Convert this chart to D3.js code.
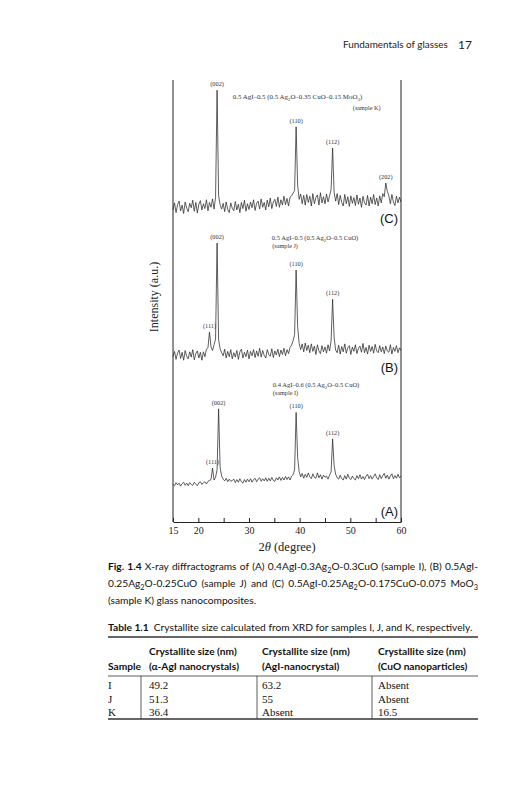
<!DOCTYPE html>
<html>
<head>
<meta charset="utf-8">
<script src="https://cdn.jsdelivr.net/npm/d3@7.9.0/dist/d3.min.js"></script>
<style>
  body { margin: 0; background: #fff; }
  text { white-space: pre; }
</style>
</head>
<body>
<svg id="page" width="531" height="800"></svg>
<script>
// 2theta grid of the scans
const thetaStart = 15, thetaStep = 0.3;

// (A) sample I
const sampleI = [
  85, 82, 89, 84, 88, 81, 87, 90, 83, 88,
  82, 89, 85, 83, 90, 86, 82, 89, 91, 85,
  89, 91, 86, 92, 94, 96, 122, 95, 101, 118,
  256, 124, 104, 97, 93, 99, 91, 97, 92, 94,
  97, 89, 96, 90, 98, 91, 88, 96, 90, 97,
  91, 98, 90, 96, 99, 91, 97, 100, 92, 98,
  93, 100, 92, 99, 93, 101, 94, 92, 100, 95,
  102, 94, 101, 95, 103, 96, 102, 95, 104, 107,
  118, 248, 146, 114, 102, 110, 99, 108, 101, 111,
  102, 98, 109, 101, 99, 111, 100, 107, 97, 106,
  101, 104, 97, 106, 113, 188, 128, 108, 100, 97,
  106, 98, 95, 105, 97, 108, 99, 96, 104, 98,
  95, 105, 98, 107, 97, 103, 96, 104, 108, 98,
  105, 97, 103, 109, 100, 96, 107, 98, 105, 110,
  99, 106, 97, 104, 109, 98, 105, 99, 108, 100,
  104
];
// (B) sample J
const sampleJ = [
  84, 96, 78, 92, 99, 80, 94, 76, 98, 85,
  79, 95, 83, 100, 77, 91, 97, 81, 94, 76,
  95, 84, 101, 104, 140, 106, 98, 111, 124, 341,
  122, 102, 93, 86, 101, 81, 96, 84, 100, 79,
  93, 83, 98, 78, 95, 101, 81, 94, 84, 99,
  79, 96, 86, 100, 82, 97, 85, 103, 83, 98,
  87, 81, 100, 89, 85, 102, 82, 97, 88, 101,
  84, 99, 89, 103, 86, 100, 91, 105, 110, 120,
  134, 280, 152, 114, 100, 113, 95, 115, 98, 110,
  93, 113, 96, 108, 89, 111, 97, 91, 109, 95,
  106, 92, 111, 97, 120, 214, 128, 99, 93, 110,
  90, 107, 95, 113, 92, 104, 109, 89, 106, 96,
  111, 91, 103, 108, 94, 114, 93, 105, 90, 110,
  96, 107, 92, 112, 97, 93, 109, 95, 106, 91,
  108, 97, 94, 111, 90, 105, 96, 109, 93, 104,
  98
];
// (C) sample K
const sampleK = [
  86, 102, 80, 98, 106, 84, 97, 78, 104, 90,
  82, 101, 91, 108, 83, 103, 79, 99, 107, 86,
  100, 89, 109, 84, 103, 92, 111, 88, 114, 357,
  118, 98, 88, 101, 82, 104, 87, 80, 102, 90,
  84, 105, 86, 99, 80, 103, 89, 108, 83, 100,
  87, 104, 91, 109, 85, 101, 106, 88, 111, 92,
  103, 86, 108, 93, 113, 89, 104, 110, 94, 115,
  92, 109, 97, 117, 98, 112, 95, 115, 118, 124,
  130, 274, 142, 110, 122, 100, 119, 97, 121, 103,
  117, 95, 123, 100, 114, 120, 97, 125, 102, 116,
  100, 122, 104, 118, 132, 226, 126, 106, 123, 98,
  119, 103, 95, 121, 100, 116, 94, 118, 101, 114,
  96, 120, 99, 113, 92, 117, 102, 97, 119, 95,
  115, 100, 121, 98, 113, 95, 118, 102, 123, 116,
  147, 128, 118, 100, 121, 104, 96, 117, 102, 115,
  104
];

const scans = [sampleI, sampleJ, sampleK];
const panelNames = ["(A)", "(B)", "(C)"];
const offsets = [0, 290, 620];

// peak reflections (2theta of the maximum, hkl)
const peaksI = [[22.8, "(111)"], [24.0, "(002)"], [39.3, "(110)"], [46.5, "(112)"]];
const peaksJ = [[22.2, "(111)"], [23.7, "(002)"], [39.3, "(110)"], [46.5, "(112)"]];
const peaksK = [[23.7, "(002)"], [39.3, "(110)"], [46.5, "(112)"], [57.0, "(202)"]];
const peaks = [peaksI, peaksJ, peaksK];

const xTicks = [15, 20, 25, 30, 35, 40, 45, 50, 55, 60];
const xTickLabels = [15, 20, 30, 40, 50, 60];

const tableHead1 = ["", "Crystallite size (nm)", "Crystallite size (nm)", "Crystallite size (nm)"];
const tableHead2 = ["Sample", "(\u03b1-AgI nanocrystals)", "(AgI-nanocrystal)", "(CuO nanoparticles)"];
const tableRows = [
  ["I", "49.2", "63.2", "Absent"],
  ["J", "51.3", "55", "Absent"],
  ["K", "36.4", "Absent", "16.5"]
];

const SERIF = "'Liberation Serif', 'Times New Roman', serif";
const SANS = "Lato, 'Open Sans', sans-serif";

const svg = d3.select("#page");

// text with bold / italic / subscript parts
function rich(text, parts, size) {
  let down = false;
  parts.forEach(([t, f]) => {
    const ts = text.append("tspan").text(t);
    if (f === "b") ts.attr("font-weight", "bold");
    if (f === "i") ts.attr("font-style", "italic");
    if (f === "s") {
      ts.attr("font-size", size * 0.72).attr("dy", size * 0.3);
      down = true;
    } else if (down) {
      ts.attr("dy", -size * 0.3);
      down = false;
    }
  });
  return text;
}

// running head
svg.append("text").attr("x", 343).attr("y", 48)
  .attr("font-family", SANS).attr("font-size", 9.9).attr("fill", "#222")
  .text("Fundamentals of glasses");
svg.append("text").attr("x", 458).attr("y", 49)
  .attr("font-family", SANS).attr("font-size", 12).attr("fill", "#222")
  .text("17");

// ---- the diffractogram ----
const x = d3.scaleLinear().domain([15, 60]).range([173, 401]);
const y = d3.scaleLinear().domain([0, 1000]).range([522, 80]);

const plot = svg.append("g");

scans.forEach((scan, k) => {
  const line = d3.line()
    .x((d, i) => x(thetaStart + thetaStep * i))
    .y(d => y(offsets[k] + d));
  plot.append("path")
    .datum(scan)
    .attr("d", line)
    .attr("fill", "none")
    .attr("stroke", "#2a2a2a")
    .attr("stroke-width", 0.75)
    .attr("stroke-linejoin", "round");

  // hkl labels above the peaks
  peaks[k].forEach(([tt, hkl]) => {
    const idx = Math.round((tt - thetaStart) / thetaStep);
    plot.append("text")
      .attr("x", x(tt))
      .attr("y", y(offsets[k] + scan[idx]) - 4)
      .attr("text-anchor", "middle")
      .attr("font-family", SERIF).attr("font-size", 6.3).attr("fill", "#333")
      .text(hkl);
  });
});

// panel letters
const letterY = [516, 372, 223];
panelNames.forEach((p, k) => {
  plot.append("text")
    .attr("x", 398).attr("y", letterY[k])
    .attr("text-anchor", "end")
    .attr("font-family", "'Liberation Sans', Arial, sans-serif")
    .attr("font-size", 13).attr("fill", "#111")
    .text(p);
});

// composition notes
function note(tt, val, parts, size) {
  const t = plot.append("text")
    .attr("x", x(tt)).attr("y", y(val))
    .attr("font-family", SERIF).attr("font-size", size).attr("fill", "#333");
  rich(t, parts, size);
}
note(26.8, 620 + 337, [["0.5 AgI\u20130.5 (0.5 Ag"], ["2", "s"], ["O\u20130.35 CuO\u20130.15 MoO"], ["3", "s"], [")"]], 6.9);
note(50.5, 620 + 313, [["(sample K)"]], 6.2);
note(34.5, 290 + 348, [["0.5 AgI\u20130.5 (0.5 Ag"], ["2", "s"], ["O\u20130.5 CuO)"]], 6.5);
note(34.6, 290 + 330, [["(sample J)"]], 6.2);
note(34.7, 305, [["0.4 AgI\u20130.6 (0.5 Ag"], ["2", "s"], ["O\u20130.5 CuO)"]], 6.5);
note(34.7, 287, [["(sample I)"]], 6.2);

// frame: left and right borders
[173, 401].forEach(px => {
  plot.append("line")
    .attr("x1", px).attr("x2", px).attr("y1", y(1000)).attr("y2", y(0))
    .attr("stroke", "#222").attr("stroke-width", 1);
});

// bottom axis, ticks pointing inwards
const xAxis = d3.axisBottom(x)
  .tickValues(xTicks)
  .tickSizeInner(-4)
  .tickSizeOuter(0)
  .tickPadding(5)
  .tickFormat(d => xTickLabels.includes(d) ? d : "");
const ax = plot.append("g").attr("transform", `translate(0,${y(0)})`).call(xAxis);
ax.select(".domain").attr("stroke", "#222");
ax.selectAll(".tick line").attr("stroke", "#222");
ax.selectAll("text").attr("font-family", SERIF).attr("font-size", 10).attr("fill", "#222");

// axis titles
const xt = plot.append("text")
  .attr("x", 287).attr("y", 551)
  .attr("text-anchor", "middle")
  .attr("font-family", SERIF).attr("font-size", 12.5).attr("fill", "#222");
rich(xt, [["2"], ["\u03b8", "i"], [" (degree)"]], 12.5);

plot.append("text")
  .attr("transform", "translate(158,297) rotate(-90)")
  .attr("text-anchor", "middle")
  .attr("font-family", SERIF).attr("font-size", 12).attr("fill", "#222")
  .text("Intensity (a.u.)");

// ---- caption, justified ----
const capSize = 10.2;
const captionLines = [
  [["Fig. 1.4", "b"], [" X-ray diffractograms of (A) 0.4AgI-0.3Ag"], ["2", "s"], ["O-0.3CuO (sample I), (B) 0.5AgI-"]],
  [["0.25Ag"], ["2", "s"], ["O-0.25CuO (sample J) and (C) 0.5AgI-0.25Ag"], ["2", "s"], ["O-0.175CuO-0.075 MoO"], ["3", "s"]],
  [["(sample K) glass nanocomposites."]]
];
captionLines.forEach((parts, i) => {
  const t = svg.append("text")
    .attr("x", 108).attr("y", 570 + i * 17)
    .attr("font-family", SANS).attr("font-size", capSize).attr("fill", "#111");
  rich(t, parts, capSize);
  if (i < 2) {
    const w = t.node().getComputedTextLength();
    const spaces = parts.map(p => p[0]).join("").split(" ").length - 1;
    t.style("word-spacing", Math.max(0, (478 - 108 - w) / spaces) + "px");
  }
});

// ---- table ----
const tbl = svg.append("g").attr("font-family", SANS).attr("fill", "#111");
rich(tbl.append("text").attr("x", 108).attr("y", 631).attr("font-size", 10.2),
  [["Table 1.1", "b"], ["  Crystallite size calculated from XRD for samples I, J, and K, respectively."]], 10.2);

const colX = [108, 149, 262, 378];
const ruleX = [141, 257, 372];
const rule = (yy, w) => tbl.append("line").attr("x1", 108).attr("x2", 478)
  .attr("y1", yy).attr("y2", yy).attr("stroke", "#333").attr("stroke-width", w);
rule(637, 1.3);
rule(676, 0.8);
rule(719, 1.3);
ruleX.forEach(px => tbl.append("line").attr("x1", px).attr("x2", px)
  .attr("y1", 676).attr("y2", 719).attr("stroke", "#333").attr("stroke-width", 0.8));

[tableHead1, tableHead2].forEach((row, r) => {
  row.forEach((c, j) => {
    tbl.append("text").attr("x", colX[j]).attr("y", 655 + r * 15)
      .attr("font-size", 10.2).attr("font-weight", "bold").text(c);
  });
});
tableRows.forEach((row, r) => {
  row.forEach((c, j) => {
    tbl.append("text").attr("x", colX[j]).attr("y", 689 + r * 13.5)
      .attr("font-family", SERIF).attr("font-size", 11).text(c);
  });
});
</script>
</body>
</html>
